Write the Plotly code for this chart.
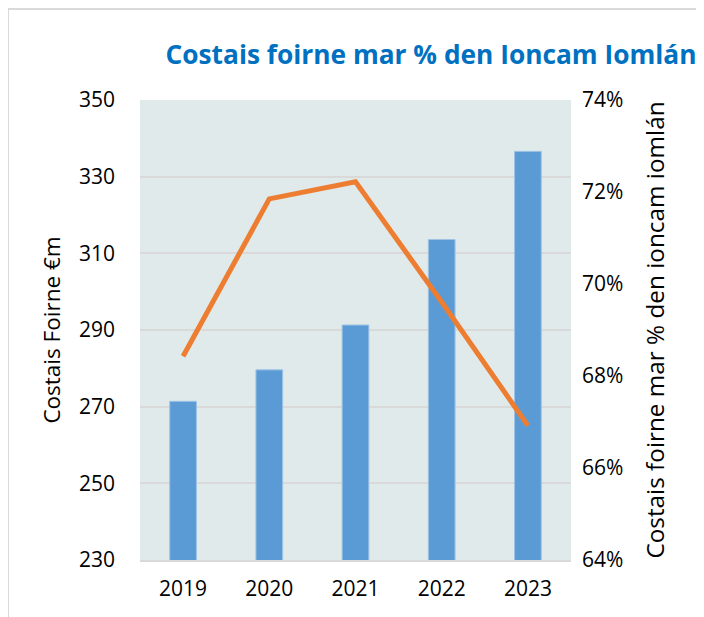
import plotly.graph_objects as go

years = ["2019", "2020", "2021", "2022", "2023"]
staff_costs = [271.4, 279.6, 291.3, 313.6, 336.6]
pct_of_income = [0.6843, 0.7185, 0.7222, 0.6961, 0.6692]

# page has an 8px body offset
OFF = 8
W, H = 704 - OFF, 617 - OFF
L, T = 140 - OFF, 100 - OFF
R = W - (571 - OFF)
B = H - (560 - OFF)
pw, ph = W - L - R, H - T - B

def px(x):
    return (x - OFF - L) / pw

def py(y):
    return (H - B - (y - OFF)) / ph

fig = go.Figure()
fig.add_trace(go.Bar(
    x=years, y=staff_costs, name="Costais Foirne €m",
    marker=dict(color="#5B9BD5", line=dict(color="#9DC3E6", width=1)),
    width=0.31, yaxis="y",
))
fig.add_trace(go.Scatter(
    x=years, y=pct_of_income, name="%", mode="lines",
    line=dict(color="#ED7D31", width=5), yaxis="y2",
))

font_family = "Open Sans"
fig.update_layout(
    width=W, height=H,
    margin=dict(l=L, r=R, t=T, b=B),
    paper_bgcolor="white",
    plot_bgcolor="#E1EAEA",
    showlegend=False,
    font=dict(family=font_family, color="#000000"),
    title=dict(
        text="<b>Costais foirne mar % den Ioncam Iomlán</b>",
        font=dict(family=font_family, size=26.3, color="#0070C0"),
        x=px(431), xanchor="center", xref="paper",
        y=1 - (55 - OFF) / H, yanchor="middle",
    ),
    xaxis=dict(
        showgrid=False, showline=True, linecolor="#D9D9D9", linewidth=2,
        tickfont=dict(size=21), ticks="", ticklabelstandoff=9,
    ),
    yaxis=dict(
        range=[230, 350], tick0=230, dtick=20, showgrid=True, gridcolor="#D9D9D9", gridwidth=1.5,
        zeroline=False, tickfont=dict(size=21), ticklabelstandoff=24,
        title=dict(text="Costais Foirne €m", font=dict(size=22.5), standoff=12),
    ),
    yaxis2=dict(
        range=[0.64, 0.74], tick0=0.64, dtick=0.02, tickformat=".0%", overlaying="y", side="right",
        showgrid=False, zeroline=False, tickfont=dict(size=21), ticklabelstandoff=10,
        title=dict(text="Costais foirne mar % den ioncam iomlán", font=dict(size=24.3), standoff=24),
    ),
    shapes=[
        dict(type="line", xref="paper", yref="paper", x0=px(8), x1=px(704), y0=py(9), y1=py(9),
             line=dict(color="#D9D9D9", width=2)),
        dict(type="line", xref="paper", yref="paper", x0=px(8), x1=px(8), y0=py(9), y1=py(617),
             line=dict(color="#D9D9D9", width=2)),
    ],
)

fig.write_html("out.html")
